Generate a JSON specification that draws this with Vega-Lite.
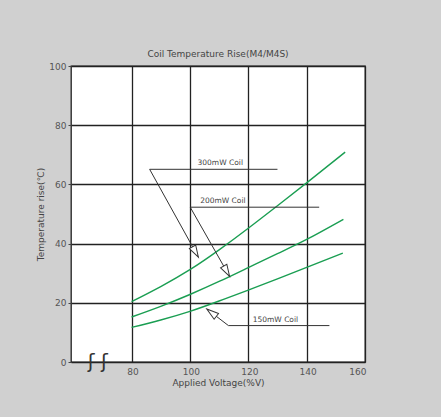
{
  "$schema": "https://vega.github.io/schema/vega-lite/v6.json",
  "width": 294,
  "height": 296,
  "autosize": {"type": "none"},
  "padding": {"left": 71, "top": 66, "right": 76, "bottom": 55},
  "background": "#d0d0d0",
  "config": {
    "view": {"fill": "white", "stroke": "#222222", "strokeWidth": 1.3},
    "font": "DejaVu Sans"
  },
  "title": {
    "text": "Coil Temperature Rise(M4/M4S)",
    "fontSize": 9,
    "fontWeight": "normal",
    "color": "#444444",
    "anchor": "middle",
    "frame": "group",
    "offset": 3
  },
  "datasets": {
    "curves": [
      {"coil": "300mW", "v": 80, "t": 20.4},
      {"coil": "300mW", "v": 90, "t": 25.5},
      {"coil": "300mW", "v": 100, "t": 31.2},
      {"coil": "300mW", "v": 110, "t": 37.9},
      {"coil": "300mW", "v": 120, "t": 45.2},
      {"coil": "300mW", "v": 130, "t": 52.8},
      {"coil": "300mW", "v": 140, "t": 60.5},
      {"coil": "300mW", "v": 153.2, "t": 70.9},
      {"coil": "200mW", "v": 80, "t": 15.2},
      {"coil": "200mW", "v": 90, "t": 18.8},
      {"coil": "200mW", "v": 100, "t": 22.8},
      {"coil": "200mW", "v": 110, "t": 27.2},
      {"coil": "200mW", "v": 120, "t": 31.9},
      {"coil": "200mW", "v": 130, "t": 36.6},
      {"coil": "200mW", "v": 140, "t": 41.4},
      {"coil": "200mW", "v": 152.6, "t": 48.2},
      {"coil": "150mW", "v": 80, "t": 11.7},
      {"coil": "150mW", "v": 90, "t": 14.2},
      {"coil": "150mW", "v": 100, "t": 17.1},
      {"coil": "150mW", "v": 110, "t": 20.6},
      {"coil": "150mW", "v": 120, "t": 24.3},
      {"coil": "150mW", "v": 130, "t": 28.1},
      {"coil": "150mW", "v": 140, "t": 32.0},
      {"coil": "150mW", "v": 152.4, "t": 36.8}
    ],
    "leaders": [
      {"coil": "300mW", "k": 1, "v": 130.0, "t": 65.1},
      {"coil": "300mW", "k": 2, "v": 86.2, "t": 65.1},
      {"coil": "300mW", "k": 3, "v": 102.9, "t": 35.4},
      {"coil": "200mW", "k": 1, "v": 144.3, "t": 52.3},
      {"coil": "200mW", "k": 2, "v": 100.1, "t": 52.3},
      {"coil": "200mW", "k": 3, "v": 113.6, "t": 28.9},
      {"coil": "150mW", "k": 1, "v": 147.8, "t": 12.3},
      {"coil": "150mW", "k": 2, "v": 113.2, "t": 12.3},
      {"coil": "150mW", "k": 3, "v": 105.8, "t": 17.9}
    ],
    "tips": [
      {"coil": "300mW", "v": 102.9, "t": 35.4},
      {"coil": "200mW", "v": 113.6, "t": 28.9},
      {"coil": "150mW", "v": 105.8, "t": 17.9}
    ],
    "labels": [
      {"coil": "300mW", "label": "300mW Coil", "v": 110.4, "t": 65.1},
      {"coil": "200mW", "label": "200mW Coil", "v": 111.3, "t": 52.3},
      {"coil": "150mW", "label": "150mW Coil", "v": 129.3, "t": 12.3}
    ],
    "brk": [{"v": 68.4, "t": 0, "s": "ʃ ʃ"}]
  },
  "layer": [
    {
      "data": {"name": "curves"},
      "mark": {"type": "line", "interpolate": "natural", "color": "#1a9e52", "strokeWidth": 1.4},
      "encoding": {
        "x": {
          "field": "v", "type": "quantitative",
          "scale": {"domain": [59.25, 160], "nice": false, "zero": false},
          "axis": {
            "values": [80, 100, 120, 140, 160],
            "grid": true, "gridColor": "#222222", "gridWidth": 1.3, "gridOpacity": 1,
            "ticks": false, "domain": false,
            "labelFontSize": 9, "labelColor": "#555555", "labelPadding": 5, "labelOffset": 1,
            "title": "Applied Voltage(%V)", "titleFontSize": 9, "titleFontWeight": "normal",
            "titleColor": "#444444", "titlePadding": 2
          }
        },
        "y": {
          "field": "t", "type": "quantitative",
          "scale": {"domain": [0, 100], "nice": false},
          "axis": {
            "values": [0, 20, 40, 60, 80, 100],
            "grid": true, "gridColor": "#222222", "gridWidth": 1.3, "gridOpacity": 1,
            "ticks": true, "tickSize": 3, "tickColor": "#444444", "domain": false,
            "labelFontSize": 9, "labelColor": "#555555", "labelPadding": 2,
            "title": "Temperature rise(℃)", "titleFontSize": 9, "titleFontWeight": "normal",
            "titleColor": "#444444", "titlePadding": 3
          }
        },
        "detail": {"field": "coil"}
      }
    },
    {
      "data": {"name": "leaders"},
      "mark": {"type": "line", "color": "#333333", "strokeWidth": 1},
      "encoding": {
        "x": {"field": "v", "type": "quantitative"},
        "y": {"field": "t", "type": "quantitative"},
        "detail": {"field": "coil"},
        "order": {"field": "k"}
      }
    },
    {
      "data": {"name": "tips"},
      "transform": [{"filter": "datum.coil == '300mW'"}],
      "mark": {"type": "point", "shape": "M0,0L-0.3,-1L0.3,-1Z", "size": 576, "filled": true, "fill": "white", "stroke": "#333333", "strokeWidth": 1, "opacity": 1, "angle": 330.8},
      "encoding": {
        "x": {"field": "v", "type": "quantitative"},
        "y": {"field": "t", "type": "quantitative"}
      }
    },
    {
      "data": {"name": "tips"},
      "transform": [{"filter": "datum.coil == '200mW'"}],
      "mark": {"type": "point", "shape": "M0,0L-0.3,-1L0.3,-1Z", "size": 576, "filled": true, "fill": "white", "stroke": "#333333", "strokeWidth": 1, "opacity": 1, "angle": 330.5},
      "encoding": {
        "x": {"field": "v", "type": "quantitative"},
        "y": {"field": "t", "type": "quantitative"}
      }
    },
    {
      "data": {"name": "tips"},
      "transform": [{"filter": "datum.coil == '150mW'"}],
      "mark": {"type": "point", "shape": "M0,0L-0.3,-1L0.3,-1Z", "size": 576, "filled": true, "fill": "white", "stroke": "#333333", "strokeWidth": 1, "opacity": 1, "angle": 127.7},
      "encoding": {
        "x": {"field": "v", "type": "quantitative"},
        "y": {"field": "t", "type": "quantitative"}
      }
    },
    {
      "data": {"name": "labels"},
      "mark": {"type": "text", "fontSize": 7.5, "color": "#444444", "baseline": "bottom", "align": "center", "dy": -2},
      "encoding": {
        "x": {"field": "v", "type": "quantitative"},
        "y": {"field": "t", "type": "quantitative"},
        "text": {"field": "label"}
      }
    },
    {
      "data": {"name": "brk"},
      "mark": {"type": "text", "fontSize": 20, "color": "#333333", "baseline": "middle", "align": "center", "clip": false},
      "encoding": {
        "x": {"field": "v", "type": "quantitative"},
        "y": {"field": "t", "type": "quantitative"},
        "text": {"field": "s"}
      }
    }
  ]
}
